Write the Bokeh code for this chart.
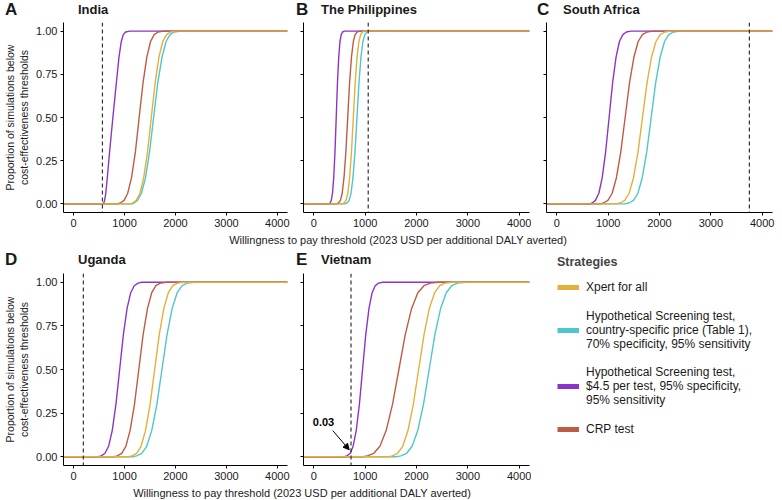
from bokeh.plotting import figure
from bokeh.models import (Range1d, Span, Label, Legend, LegendItem, Div, Arrow,
                          NormalHead, FixedTicker, PrintfTickFormatter)
from bokeh.layouts import column, row
from bokeh.embed import file_html
from bokeh.resources import INLINE

FONT = "Liberation Sans"

# ---------------- data ----------------
STRATEGIES = [
    "Xpert for all",
    "Hypothetical Screening test,\ncountry-specific price (Table 1),\n70% specificity, 95% sensitivity",
    "Hypothetical Screening test,\n$4.5 per test, 95% specificity,\n95% sensitivity",
    "CRP test",
]
COLORS = ["#E4AF3B", "#4FC6CB", "#8A35C8", "#BE5B45"]

PROB_LEVELS = [0.0, 0.005, 0.02, 0.06, 0.15, 0.3, 0.5, 0.7, 0.85, 0.94, 0.98, 0.995, 1.0]

X_TICKS = [0, 1000, 2000, 3000, 4000]
Y_TICKS = [0.0, 0.25, 0.5, 0.75, 1.0]

COUNTRIES = ["India", "The Philippines", "South Africa", "Uganda", "Vietnam"]
LETTERS = ["A", "B", "C", "D", "E"]

# India
india_xpert = [1120, 1160, 1230, 1300, 1375, 1450, 1525, 1600, 1675, 1750, 1825, 1900, 2000]
india_screen_country = [1150, 1185, 1255, 1330, 1410, 1490, 1570, 1652, 1735, 1815, 1895, 1975, 2100]
india_screen_45 = [575, 590, 608, 630, 660, 705, 770, 838, 890, 935, 975, 1020, 1100]
india_crp = [865, 915, 990, 1060, 1135, 1212, 1286, 1362, 1437, 1510, 1582, 1660, 1760]
india_threshold = 565

# The Philippines
phil_xpert = [555, 590, 627, 662, 697, 734, 770, 806, 843, 878, 913, 950, 1000]
phil_screen_country = [600, 647, 687, 725, 763, 802, 841, 880, 919, 957, 995, 1035, 1075]
phil_screen_45 = [300, 316, 341, 364, 388, 413, 437, 461, 486, 510, 535, 560, 600]
phil_crp = [440, 480, 518, 553, 588, 625, 661, 697, 734, 770, 805, 842, 890]
phil_threshold = 1060

# South Africa
sa_xpert = [1150, 1233, 1323, 1407, 1493, 1581, 1669, 1757, 1845, 1931, 2015, 2105, 2230]
sa_screen_country = [1320, 1405, 1494, 1578, 1663, 1751, 1838, 1925, 2013, 2098, 2182, 2271, 2400]
sa_screen_45 = [650, 690, 752, 818, 884, 951, 1019, 1087, 1154, 1220, 1286, 1355, 1440]
sa_crp = [850, 908, 995, 1077, 1160, 1246, 1331, 1416, 1502, 1585, 1667, 1754, 1870]
sa_threshold = 3750

# Uganda
ug_xpert = [1075, 1145, 1236, 1323, 1411, 1501, 1591, 1681, 1771, 1859, 1946, 2037, 2170]
ug_screen_country = [1160, 1236, 1338, 1435, 1533, 1634, 1734, 1834, 1935, 2033, 2130, 2232, 2380]
ug_screen_45 = [490, 542, 616, 686, 757, 830, 903, 976, 1049, 1120, 1190, 1264, 1340]
ug_crp = [790, 856, 943, 1025, 1108, 1194, 1279, 1364, 1450, 1533, 1615, 1702, 1830]
ug_threshold = 190

# Vietnam
vn_xpert = [1470, 1526, 1632, 1732, 1834, 1938, 2042, 2146, 2250, 2352, 2452, 2558, 2700]
vn_screen_country = [1600, 1695, 1808, 1915, 2024, 2136, 2247, 2358, 2470, 2579, 2686, 2799, 2950]
vn_screen_45 = [600, 645, 710, 766, 826, 888, 950, 1012, 1075, 1136, 1196, 1260, 1340]
vn_crp = [960, 1043, 1169, 1288, 1409, 1533, 1657, 1781, 1905, 2026, 2145, 2271, 2420]
vn_threshold = 725
vn_annotation = "0.03"

X_MIN, X_MAX = -200, 4200
X_TITLE = "Willingness to pay threshold (2023 USD per additional DALY averted)"
Y_TITLE = "Proportion of simulations below\ncost-effectiveness thresholds"


def style_axes(p, show_ylabels, ylabel):
    p.outline_line_color = None
    p.grid.visible = False
    p.xaxis.ticker = FixedTicker(ticks=X_TICKS)
    p.yaxis.ticker = FixedTicker(ticks=Y_TICKS)
    p.yaxis.formatter = PrintfTickFormatter(format="%.2f")
    for ax in p.axis:
        ax.axis_line_color = "black"
        ax.axis_line_width = 1
        ax.major_tick_line_color = "black"
        ax.major_tick_in = 0
        ax.major_tick_out = 3
        ax.minor_tick_line_color = None
        ax.major_label_text_font = FONT
        ax.major_label_text_font_size = "11px"
        ax.major_label_text_color = "#1a1a1a"
        ax.major_label_standoff = 3
    if not show_ylabels:
        p.yaxis.major_label_overrides = {t: "" for t in Y_TICKS}
        p.yaxis.major_label_standoff = 0
    if ylabel:
        p.yaxis.axis_label = ylabel
        p.yaxis.axis_label_text_font = FONT
        p.yaxis.axis_label_text_font_size = "10.5px"
        p.yaxis.axis_label_text_font_style = "normal"
        p.yaxis.axis_label_text_color = "#1a1a1a"
        p.yaxis.axis_label_standoff = 3


def panel(width, height, bl, br, bt, bb, series, threshold, show_ylabels, ylabel):
    p = figure(width=width, height=height, output_backend="svg", toolbar_location=None,
               x_range=Range1d(X_MIN, X_MAX), y_range=Range1d(-0.05, 1.05),
               min_border_left=bl, min_border_right=br, min_border_top=bt,
               min_border_bottom=bb, title=None)
    style_axes(p, show_ylabels, ylabel)
    p.add_layout(Span(location=threshold, dimension="height", line_color="#333333",
                      line_dash="4 3", line_width=1.2))
    # draw order: teal, purple, red, then yellow on top
    for i in [1, 2, 3, 0]:
        xs = [X_MIN] + series[i] + [X_MAX]
        ys = [0.0] + PROB_LEVELS + [1.0]
        p.line(xs, ys, line_color=COLORS[i], line_width=1.4)
    return p


H1, BT1, BB1 = 212, 2, 20
H2, BT2, BB2 = 215, 3, 20

pA = panel(290, H1, 61, 3, BT1, BB1,
           [india_xpert, india_screen_country, india_screen_45, india_crp],
           india_threshold, True, Y_TITLE)
pB = panel(241, H1, 13, 2, BT1, BB1,
           [phil_xpert, phil_screen_country, phil_screen_45, phil_crp],
           phil_threshold, False, None)
pC = panel(251, H1, 15, 10, BT1, BB1,
           [sa_xpert, sa_screen_country, sa_screen_45, sa_crp],
           sa_threshold, False, None)
pD = panel(290, H2, 61, 3, BT2, BB2,
           [ug_xpert, ug_screen_country, ug_screen_45, ug_crp],
           ug_threshold, True, Y_TITLE)
pE = panel(241, H2, 13, 2, BT2, BB2,
           [vn_xpert, vn_screen_country, vn_screen_45, vn_crp],
           vn_threshold, False, None)

# annotation in Vietnam panel
pE.add_layout(Label(x=190, y=0.20, text=vn_annotation, text_font=FONT,
                    text_font_size="11px", text_font_style="bold",
                    text_align="center", text_baseline="middle", text_color="black"))
pE.add_layout(Arrow(x_start=370, y_start=0.15, x_end=690, y_end=0.04,
                    line_color="black", line_width=1,
                    end=NormalHead(size=6, fill_color="black", line_color="black")))

# legend panel
H_T2 = 22
pF = figure(width=251, height=H_T2 + H2, output_backend="svg", toolbar_location=None,
            x_range=Range1d(0, 1), y_range=Range1d(0, 1),
            x_axis_location=None, y_axis_location=None,
            min_border_left=26, min_border_right=0, min_border_top=7,
            min_border_bottom=0, title=None)
pF.outline_line_color = None
pF.grid.visible = False
items = []
for lab, col in zip(STRATEGIES, COLORS):
    r = pF.line([-5, -4], [-5, -4], line_color=col, line_width=5)
    items.append(LegendItem(label=lab, renderers=[r]))
leg = Legend(items=items, location="top_left", margin=0, padding=8,
             title="Strategies", title_text_font=FONT, title_text_font_size="12.5px",
             title_text_font_style="bold", title_standoff=10,
             label_text_font=FONT, label_text_font_size="12px",
             label_text_line_height=1.35, label_text_color="#1a1a1a",
             glyph_width=22, glyph_height=16, label_height=16,
             label_standoff=7, spacing=14,
             border_line_color=None, background_fill_alpha=0)
pF.add_layout(leg)

BASE = "font-family:'Liberation Sans';color:#1a1a1a;white-space:nowrap;"


def title_div(letters, names, w, h, top):
    spans = []
    for (lx, letter), (nx, name) in zip(letters, names):
        spans.append(f'<span style="position:absolute;left:{lx}px;top:{top}px;line-height:18px;'
                     f'font-size:17px;font-weight:bold;{BASE}">{letter}</span>')
        spans.append(f'<span style="position:absolute;left:{nx}px;top:{top}px;line-height:18px;'
                     f'font-size:13px;font-weight:bold;{BASE}">{name}</span>')
    return Div(text=f'<div style="position:relative;width:{w}px;height:{h}px;">{"".join(spans)}</div>',
               width=w, height=h, margin=0)


t1 = title_div([(5, LETTERS[0]), (296, LETTERS[1]), (537, LETTERS[2])],
               [(78, COUNTRIES[0]), (321, COUNTRIES[1]), (563, COUNTRIES[2])], 782, 20, 1)
t2 = title_div([(5, LETTERS[3]), (296, LETTERS[4])],
               [(78, COUNTRIES[3]), (321, COUNTRIES[4])], 531, H_T2, 3)

XSTYLE = BASE + "font-size:11px;text-align:center;line-height:14px;"
x1 = Div(text=f'<div style="{XSTYLE}width:782px;padding-left:14px;box-sizing:border-box;">{X_TITLE}</div>',
         width=782, height=16, margin=0)
x2 = Div(text=f'<div style="{XSTYLE}width:604px;">{X_TITLE}</div>',
         width=782, height=14, margin=0)

layout = column(t1, row(pA, pB, pC), x1,
                row(column(t2, row(pD, pE)), pF), x2)
open("out.html", "w").write(file_html(layout, INLINE))
